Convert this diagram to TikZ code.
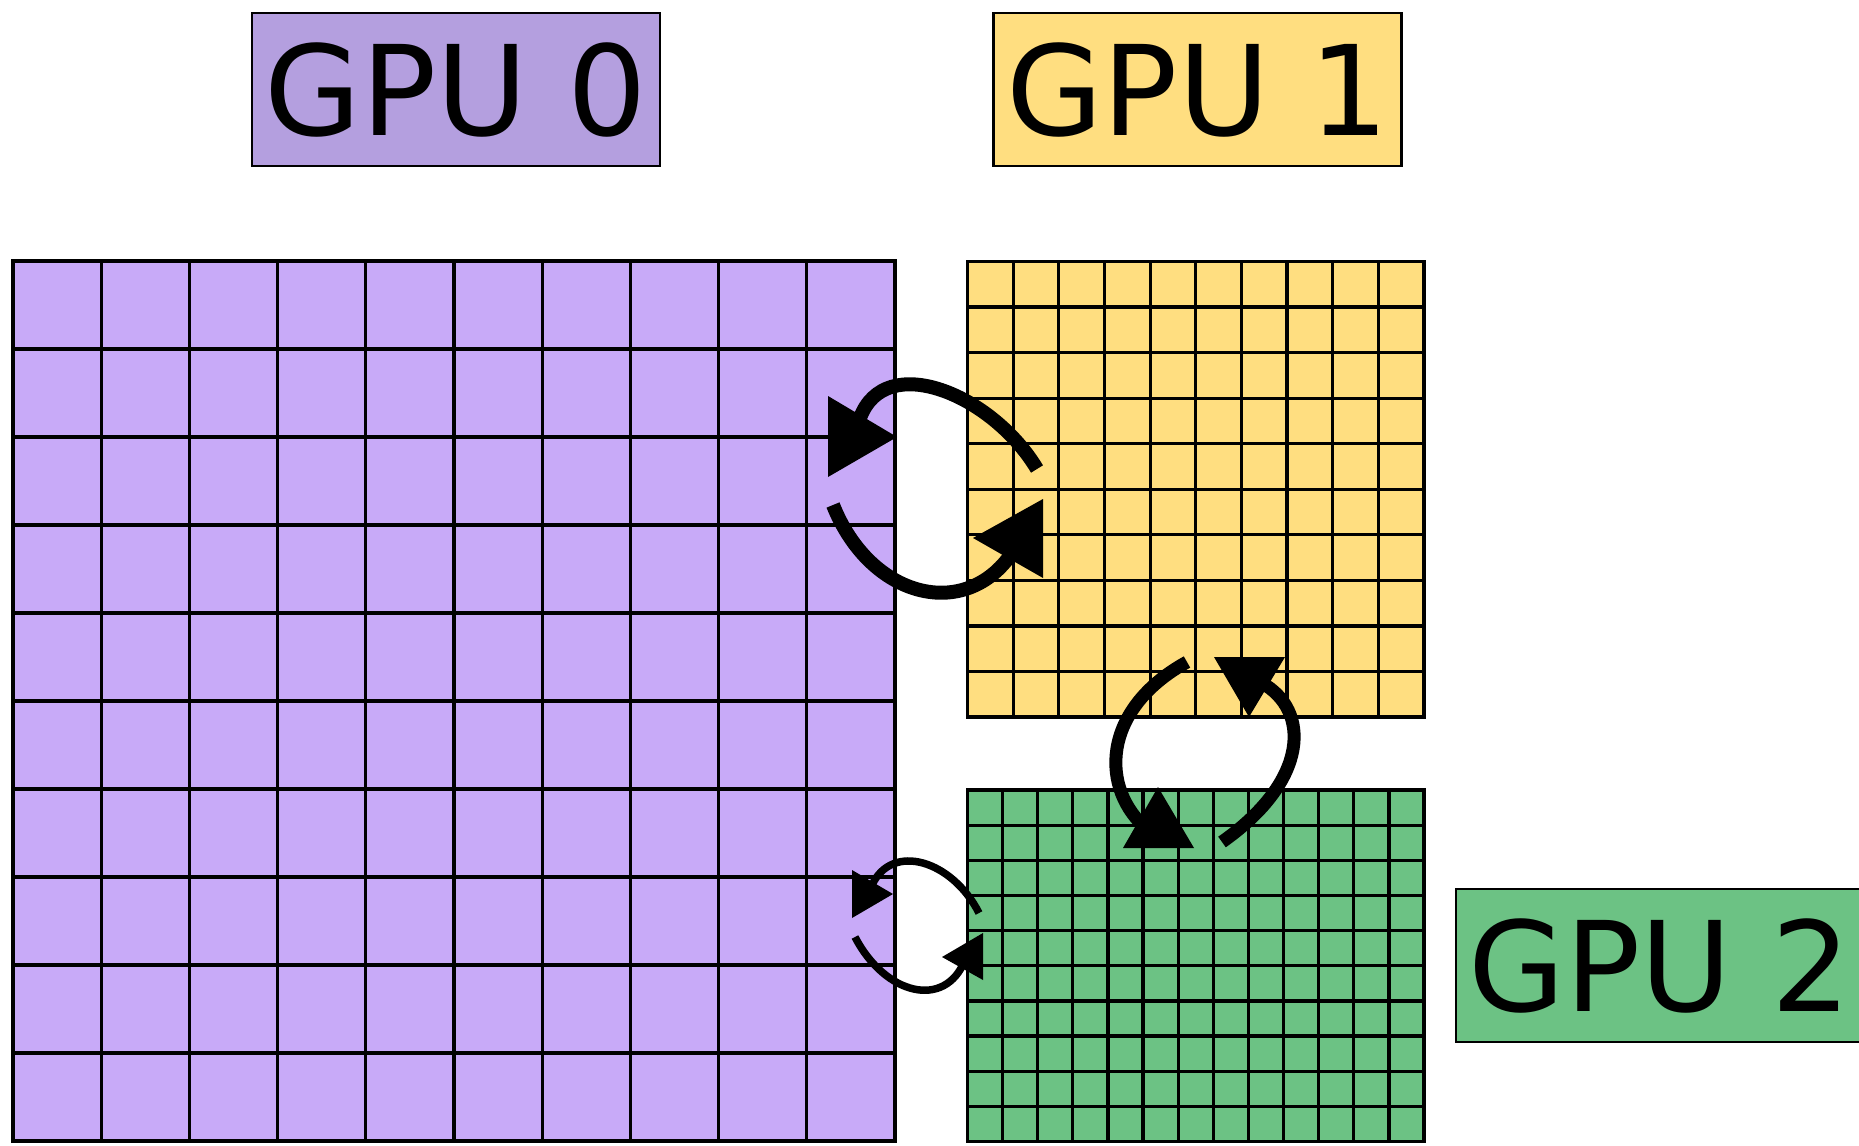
\documentclass[tikz,border=0pt]{standalone}
\usepackage{fontspec}
\setmainfont{DejaVu Sans}
\definecolor{gpuzerolabel}{HTML}{B49FDF}
\definecolor{gpuzero}{HTML}{C8AAF8}
\definecolor{gpuone}{HTML}{FFDE80}
\definecolor{gputwo}{HTML}{6CC284}
\tikzset{
  gpulabel/.style={draw=black, line width=2.5pt, rectangle, minimum width=408pt,
    minimum height=153pt, inner sep=0pt, font=\fontsize{125}{150}\selectfont},
  gridline/.style={line width=3.2pt, line cap=rect},
  bigflow/.style={line width=14pt, line cap=butt},
  midflow/.style={line width=13pt, line cap=butt},
  smallflow/.style={line width=7.5pt, line cap=butt},
  headtip/.style={fill=black},
}
\begin{document}
\begin{tikzpicture}[x=1pt,y=-1pt]
\useasboundingbox (0,0) rectangle (1859,1145);
\clip (0,0) rectangle (1859,1145);

% labels
\node[gpulabel, fill=gpuzerolabel] (gpu0label) at (456,89.5) {GPU 0};
\node[gpulabel, fill=gpuone] (gpu1label) at (1197.5,89.5) {GPU 1};
\node[gpulabel, fill=gputwo] (gpu2label) at (1660,965.5) {GPU 2};

% GPU 0 partition: 10 x 10 blocks
\fill[gpuzero] (13,261) rectangle (895,1141);
\foreach \i in {0,...,10} {
  \draw[gridline] ({13+\i*88.2},261) -- ({13+\i*88.2},1141);
  \draw[gridline] (13,{261+\i*88}) -- (895,{261+\i*88});
}

% GPU 1 partition: 10 x 10 blocks
\fill[gpuone] (967.5,261.5) rectangle (1424,717);
\foreach \i in {0,...,10} {
  \draw[gridline] ({967.5+\i*45.65},261.5) -- ({967.5+\i*45.65},717);
  \draw[gridline] (967.5,{261.5+\i*45.55}) -- (1424,{261.5+\i*45.55});
}

% GPU 2 partition: 13 x 10 blocks
\fill[gputwo] (967.5,790) rectangle (1424,1141.5);
\foreach \i in {0,...,13} {
  \draw[gridline] ({967.5+\i*35.115},790) -- ({967.5+\i*35.115},1141.5);
}
\foreach \i in {0,...,10} {
  \draw[gridline] (967.5,{790+\i*35.15}) -- (1424,{790+\i*35.15});
}

% halo exchange GPU 0 <-> GPU 1
\coordinate (aS) at (1037,469);
\coordinate (aE) at (860,418);
\coordinate (bS) at (833,505);
\coordinate (bE) at (1012,553);
\draw[bigflow] (aS) .. controls (992,394) and (885,350) .. (aE);
\fill[headtip] (828,396) -- (828,477) -- (897,437) -- cycle;
\draw[bigflow] (bS) .. controls (870,598) and (965,622) .. (bE);
\fill[headtip] (1043,499) -- (1043,578) -- (973,538) -- cycle;

% halo exchange GPU 1 <-> GPU 2
\coordinate (cS) at (1187,662);
\coordinate (cE) at (1148,830);
\coordinate (dS) at (1222,842);
\coordinate (dE) at (1262,683);
\draw[midflow] (cS) .. controls (1100,710) and (1100,790) .. (cE);
\fill[headtip] (1158,787) -- (1123,848) -- (1194,848) -- cycle;
\draw[midflow] (dS) .. controls (1310,780) and (1310,710) .. (dE);
\fill[headtip] (1214,657) -- (1285,657) -- (1249,717) -- cycle;

% halo exchange GPU 0 <-> GPU 2
\coordinate (eS) at (979,913);
\coordinate (eE) at (872,885);
\coordinate (fS) at (855,937);
\coordinate (fE) at (965,960);
\draw[smallflow] (eS) .. controls (952,860) and (892,842) .. (eE);
\fill[headtip] (852,870) -- (852,918) -- (893,894) -- cycle;
\draw[smallflow] (fS) .. controls (885,995) and (945,1010) .. (fE);
\fill[headtip] (983,933) -- (983,980) -- (942,957) -- cycle;
\end{tikzpicture}
\end{document}
